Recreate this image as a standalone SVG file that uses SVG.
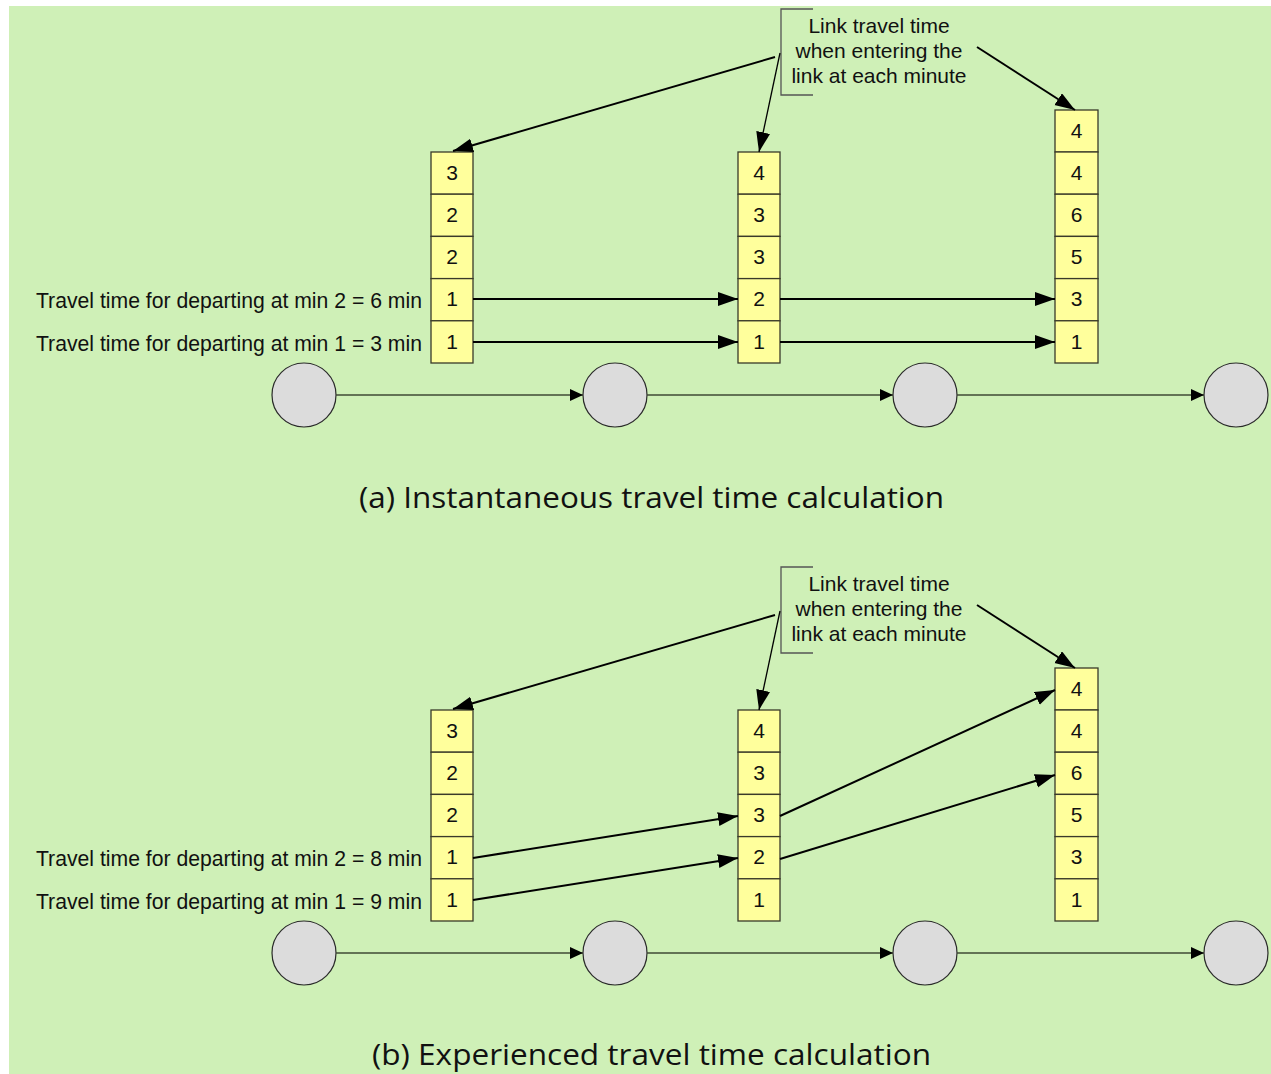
<svg xmlns="http://www.w3.org/2000/svg" width="1271" height="1074" viewBox="0 0 1271 1074">
<defs>
<style>
.bg{fill:#cff0b7}
.cell{fill:#ffff9c;stroke:#3a3a2a;stroke-width:1.3}
.num{font-family:"Liberation Sans",Arial,sans-serif;font-size:21px;fill:#111;text-anchor:middle}
.lbl{font-family:"Liberation Sans",Arial,sans-serif;font-size:21px;fill:#111}
.lbl2{font-family:"Liberation Sans",Arial,sans-serif;font-size:21.2px;fill:#111;text-anchor:end}
.cap{font-family:"Open Sans","Noto Sans",sans-serif;font-size:30px;fill:#111;text-anchor:middle}
.node{fill:#dcdcdc;stroke:#2a2a2a;stroke-width:1.2}
.edge{stroke:#3f4a35;stroke-width:1.5;fill:none}
.arr{stroke:#000;stroke-width:2;fill:none}
.thin{stroke:#000;stroke-width:1.3;fill:none}
.brk{stroke:#555;stroke-width:1.3;fill:none}
</style>
<marker id="ah" markerUnits="userSpaceOnUse" markerWidth="22" markerHeight="16" refX="20" refY="7" orient="auto">
<path d="M0,0 L20,7 L0,14 Z" fill="#000"/>
</marker>
<marker id="ahs" markerUnits="userSpaceOnUse" markerWidth="15" markerHeight="14" refX="13" refY="6" orient="auto">
<path d="M0,0 L13,6 L0,12 Z" fill="#000"/>
</marker>
</defs>
<rect class="bg" x="9" y="6" width="1262" height="1068"/>

<!-- ===== Section (a) ===== -->
<g id="a-callout">
<path class="brk" d="M813,9 H781 V95 H813"/>
<text class="lbl" x="879" y="33" text-anchor="middle">Link travel time</text>
<text class="lbl" x="879" y="58" text-anchor="middle">when entering the</text>
<text class="lbl" x="879" y="83" text-anchor="middle">link at each minute</text>
</g>
<g id="a-col1">
<rect class="cell" x="431" y="152" width="42" height="42.2"/>
<rect class="cell" x="431" y="194.2" width="42" height="42.2"/>
<rect class="cell" x="431" y="236.4" width="42" height="42.2"/>
<rect class="cell" x="431" y="278.6" width="42" height="42.2"/>
<rect class="cell" x="431" y="320.8" width="42" height="42.2"/>
<text class="num" x="452" y="180">3</text>
<text class="num" x="452" y="222">2</text>
<text class="num" x="452" y="264">2</text>
<text class="num" x="452" y="306">1</text>
<text class="num" x="452" y="349">1</text>
</g>
<g id="a-col2">
<rect class="cell" x="738" y="152" width="42" height="42.2"/>
<rect class="cell" x="738" y="194.2" width="42" height="42.2"/>
<rect class="cell" x="738" y="236.4" width="42" height="42.2"/>
<rect class="cell" x="738" y="278.6" width="42" height="42.2"/>
<rect class="cell" x="738" y="320.8" width="42" height="42.2"/>
<text class="num" x="759" y="180">4</text>
<text class="num" x="759" y="222">3</text>
<text class="num" x="759" y="264">3</text>
<text class="num" x="759" y="306">2</text>
<text class="num" x="759" y="349">1</text>
</g>
<g id="a-col3">
<rect class="cell" x="1055" y="110" width="43" height="42"/>
<rect class="cell" x="1055" y="152" width="43" height="42.2"/>
<rect class="cell" x="1055" y="194.2" width="43" height="42.2"/>
<rect class="cell" x="1055" y="236.4" width="43" height="42.2"/>
<rect class="cell" x="1055" y="278.6" width="43" height="42.2"/>
<rect class="cell" x="1055" y="320.8" width="43" height="42.2"/>
<text class="num" x="1076.5" y="138">4</text>
<text class="num" x="1076.5" y="180">4</text>
<text class="num" x="1076.5" y="222">6</text>
<text class="num" x="1076.5" y="264">5</text>
<text class="num" x="1076.5" y="306">3</text>
<text class="num" x="1076.5" y="349">1</text>
</g>
<g id="a-labels">
<text class="lbl2" x="422" y="308">Travel time for departing at min 2 = 6 min</text>
<text class="lbl2" x="422" y="351">Travel time for departing at min 1 = 3 min</text>
</g>
<g id="a-nodes">
<circle class="node" cx="304" cy="395" r="32"/>
<circle class="node" cx="615" cy="395" r="32"/>
<circle class="node" cx="925" cy="395" r="32"/>
<circle class="node" cx="1236" cy="395" r="32"/>
</g>
<g id="a-connectors">
<line class="edge" x1="336" y1="395" x2="583" y2="395" marker-end="url(#ahs)"/>
<line class="edge" x1="647" y1="395" x2="893" y2="395" marker-end="url(#ahs)"/>
<line class="edge" x1="957" y1="395" x2="1204" y2="395" marker-end="url(#ahs)"/>
<line class="arr" x1="473" y1="299" x2="738" y2="299" marker-end="url(#ah)"/>
<line class="arr" x1="473" y1="342" x2="738" y2="342" marker-end="url(#ah)"/>
<line class="arr" x1="780" y1="299" x2="1055" y2="299" marker-end="url(#ah)"/>
<line class="arr" x1="780" y1="342" x2="1055" y2="342" marker-end="url(#ah)"/>
<line class="arr" x1="775" y1="57" x2="453" y2="151" marker-end="url(#ah)"/>
<line class="thin" x1="780" y1="53" x2="759" y2="152" marker-end="url(#ah)"/>
<line class="arr" x1="977" y1="47" x2="1075" y2="110" marker-end="url(#ah)"/>
</g>
<text class="cap" x="651.5" y="508" textLength="585" lengthAdjust="spacingAndGlyphs">(a) Instantaneous travel time calculation</text>

<!-- ===== Section (b) ===== -->
<g id="b-callout">
<path class="brk" d="M813,567 H781 V653 H813"/>
<text class="lbl" x="879" y="591" text-anchor="middle">Link travel time</text>
<text class="lbl" x="879" y="616" text-anchor="middle">when entering the</text>
<text class="lbl" x="879" y="641" text-anchor="middle">link at each minute</text>
</g>
<g id="b-col1">
<rect class="cell" x="431" y="710" width="42" height="42.2"/>
<rect class="cell" x="431" y="752.2" width="42" height="42.2"/>
<rect class="cell" x="431" y="794.4" width="42" height="42.2"/>
<rect class="cell" x="431" y="836.6" width="42" height="42.2"/>
<rect class="cell" x="431" y="878.8" width="42" height="42.2"/>
<text class="num" x="452" y="738">3</text>
<text class="num" x="452" y="780">2</text>
<text class="num" x="452" y="822">2</text>
<text class="num" x="452" y="864">1</text>
<text class="num" x="452" y="907">1</text>
</g>
<g id="b-col2">
<rect class="cell" x="738" y="710" width="42" height="42.2"/>
<rect class="cell" x="738" y="752.2" width="42" height="42.2"/>
<rect class="cell" x="738" y="794.4" width="42" height="42.2"/>
<rect class="cell" x="738" y="836.6" width="42" height="42.2"/>
<rect class="cell" x="738" y="878.8" width="42" height="42.2"/>
<text class="num" x="759" y="738">4</text>
<text class="num" x="759" y="780">3</text>
<text class="num" x="759" y="822">3</text>
<text class="num" x="759" y="864">2</text>
<text class="num" x="759" y="907">1</text>
</g>
<g id="b-col3">
<rect class="cell" x="1055" y="668" width="43" height="42"/>
<rect class="cell" x="1055" y="710" width="43" height="42.2"/>
<rect class="cell" x="1055" y="752.2" width="43" height="42.2"/>
<rect class="cell" x="1055" y="794.4" width="43" height="42.2"/>
<rect class="cell" x="1055" y="836.6" width="43" height="42.2"/>
<rect class="cell" x="1055" y="878.8" width="43" height="42.2"/>
<text class="num" x="1076.5" y="696">4</text>
<text class="num" x="1076.5" y="738">4</text>
<text class="num" x="1076.5" y="780">6</text>
<text class="num" x="1076.5" y="822">5</text>
<text class="num" x="1076.5" y="864">3</text>
<text class="num" x="1076.5" y="907">1</text>
</g>
<g id="b-labels">
<text class="lbl2" x="422" y="866">Travel time for departing at min 2 = 8 min</text>
<text class="lbl2" x="422" y="909">Travel time for departing at min 1 = 9 min</text>
</g>
<g id="b-nodes">
<circle class="node" cx="304" cy="953" r="32"/>
<circle class="node" cx="615" cy="953" r="32"/>
<circle class="node" cx="925" cy="953" r="32"/>
<circle class="node" cx="1236" cy="953" r="32"/>
</g>
<g id="b-connectors">
<line class="edge" x1="336" y1="953" x2="583" y2="953" marker-end="url(#ahs)"/>
<line class="edge" x1="647" y1="953" x2="893" y2="953" marker-end="url(#ahs)"/>
<line class="edge" x1="957" y1="953" x2="1204" y2="953" marker-end="url(#ahs)"/>
<line class="arr" x1="473" y1="858" x2="738" y2="816" marker-end="url(#ah)"/>
<line class="arr" x1="473" y1="900" x2="738" y2="858" marker-end="url(#ah)"/>
<line class="arr" x1="780" y1="816" x2="1055" y2="690" marker-end="url(#ah)"/>
<line class="arr" x1="780" y1="859" x2="1055" y2="775" marker-end="url(#ah)"/>
<line class="arr" x1="775" y1="615" x2="453" y2="709" marker-end="url(#ah)"/>
<line class="thin" x1="780" y1="611" x2="759" y2="710" marker-end="url(#ah)"/>
<line class="arr" x1="977" y1="605" x2="1075" y2="668" marker-end="url(#ah)"/>
</g>
<text class="cap" x="651.5" y="1065" textLength="559" lengthAdjust="spacingAndGlyphs">(b) Experienced travel time calculation</text>
</svg>
